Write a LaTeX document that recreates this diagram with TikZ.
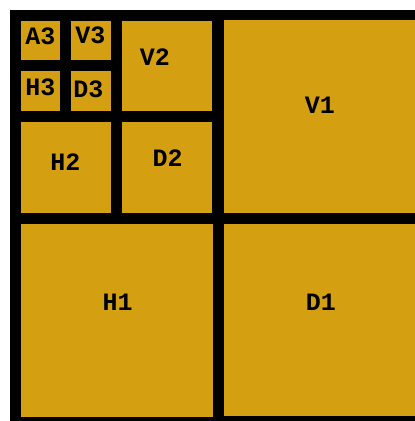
\documentclass[tikz,border=0pt]{standalone}
\usepackage{fontspec}
\newfontfamily\lblfont{Liberation Mono}
\definecolor{gold}{RGB}{212,160,18}
\begin{document}
\begin{tikzpicture}[x=1pt,y=-1pt,
  cell/.style={fill=gold, draw=none, inner sep=0pt},
  lbl/.style={font=\lblfont\bfseries\fontsize{25}{25}\selectfont, inner sep=0pt, anchor=base}]
\useasboundingbox[fill=white] (0,0) rectangle (415,421);
\fill[black] (10,10) rectangle (415,421);
% boxes: corners
\newcommand{\mybox}[5]{\node[cell, minimum width={#4-#2}, minimum height={#5-#3}] (#1) at ({(#2+#4)/2},{(#3+#5)/2}) {};}
\mybox{A3box}{20.7}{20.7}{60}{60}
\mybox{V3box}{70.7}{20.7}{111}{60}
\mybox{H3box}{20.7}{70.7}{60}{111}
\mybox{D3box}{70.7}{70.7}{111}{111}
\mybox{V2box}{122}{20.7}{212}{111}
\mybox{H2box}{20.7}{122}{111}{213}
\mybox{D2box}{122}{122}{212}{213}
\mybox{V1box}{224}{19.5}{415}{213}
\mybox{H1box}{20.7}{224}{213}{417}
\mybox{D1box}{224}{224}{415}{416}
% labels (baseline positions)
\node[lbl] (A3) at (40.5,44) {A3};
\node[lbl] (V3) at (90.5,43) {V3};
\node[lbl] (H3) at (40.5,95) {H3};
\node[lbl] (D3) at (88.5,97) {D3};
\node[lbl] (V2) at (155,65) {V2};
\node[lbl] (H2) at (65.5,170) {H2};
\node[lbl] (D2) at (167.7,166.7) {D2};
\node[lbl] (V1) at (320,113) {V1};
\node[lbl] (H1) at (117.7,310) {H1};
\node[lbl] (D1) at (321,310) {D1};
\end{tikzpicture}
\end{document}
